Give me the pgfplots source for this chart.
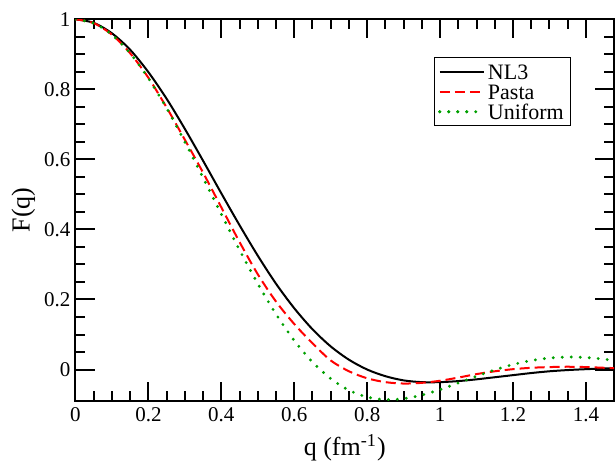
\documentclass[border=0pt]{standalone}
\usepackage{fontspec}
\setmainfont{Liberation Serif}
\usepackage{pgfplots}
\pgfplotsset{compat=1.18}
\definecolor{grgreen}{RGB}{0,160,0}

\pgfplotstableread{
q F
0 1.0
0.05 0.990
0.1 0.960
0.15 0.913
0.2 0.849
0.25 0.773
0.3 0.687
0.35 0.596
0.4 0.503
0.45 0.412
0.5 0.325
0.55 0.245
0.6 0.175
0.65 0.115
0.7 0.066
0.75 0.028
0.8 0.000
0.85 -0.019
0.9 -0.031
0.95 -0.036
1.0 -0.036
1.05 -0.033
1.1 -0.028
1.15 -0.022
1.2 -0.016
1.25 -0.010
1.3 -0.005
1.35 -0.0015
1.4 0.001
1.45 0.003
1.48 0.0036
}\nlthree

\pgfplotstableread{
q F
0 1.0
0.05 0.989
0.1 0.956
0.15 0.903
0.2 0.833
0.25 0.748
0.3 0.656
0.35 0.562
0.4 0.463
0.45 0.364
0.5 0.272
0.55 0.194
0.6 0.130
0.65 0.075
0.7 0.026
0.75 -0.005
0.8 -0.025
0.85 -0.036
0.9 -0.040
0.95 -0.038
1.0 -0.032
1.05 -0.023
1.1 -0.013
1.15 -0.005
1.2 0.001
1.25 0.005
1.3 0.007
1.35 0.008
1.4 0.007
1.45 0.005
1.48 0.004
}\pasta

\pgfplotstableread{
q F
0 1.0
0.05 0.9888
0.1 0.9558
0.15 0.9026
0.2 0.8316
0.25 0.7461
0.3 0.6501
0.35 0.5478
0.4 0.4434
0.45 0.3412
0.5 0.2450
0.55 0.1581
0.6 0.0829
0.65 0.0213
0.7 -0.0260
0.75 -0.0590
0.8 -0.0786
0.85 -0.0860
0.9 -0.0833
0.95 -0.0729
1.0 -0.0571
1.05 -0.0384
1.1 -0.0191
1.15 -0.0010
1.2 0.0143
1.25 0.0257
1.3 0.0328
1.35 0.0356
1.4 0.0342
1.45 0.0295
1.48 0.0255
}\uniform

\begin{document}
\begin{tikzpicture}
\path[use as bounding box] (-37.75pt,-30.65pt) rectangle (269.75pt,200.35pt);
\begin{axis}[
  at={(0pt,0pt)}, anchor=south west,
  width=269.25pt, height=190.7pt, scale only axis,
  xmin=0, xmax=1.477, ymin=-0.089, ymax=1,
  xtick={0,0.2,0.4,0.6,0.8,1,1.2,1.4},
  xticklabels={0,0.2,0.4,0.6,0.8,1,1.2,1.4},
  ytick={0,0.2,0.4,0.6,0.8,1},
  yticklabels={0,0.2,0.4,0.6,0.8,1},
  minor tick num=3,
  major tick length=9.5pt, minor tick length=5pt,
  tick style={line width=1pt, black},
  axis line style={line width=1pt},
  /pgf/number format/assume math mode=true,
  tick label style={font=\fontsize{10.5}{12}\selectfont},
  yticklabel style={xshift=1pt},
  xlabel={q (fm\textsuperscript{-1})},
  ylabel={F(q)},
  label style={font=\fontsize{13}{15}\selectfont},
  xlabel style={at={(axis description cs:0.5,0)}, anchor=base, yshift=-27.5pt},
  ylabel style={at={(axis description cs:0,0.5)}, anchor=center, yshift=26pt},
  legend style={at={(0.92,0.901)}, anchor=north east, draw=black, line width=0.6pt,
    font=\fontsize{11}{10}\selectfont, inner sep=2pt, row sep=0pt,
    nodes={inner sep=1.3pt, text height=7.4pt, text depth=0pt},
    cells={anchor=west}},
  legend image code/.code={\draw[#1] (0pt,0pt) -- (18pt,0pt); \path (0pt,0pt) -- (22pt,0pt);},
]
\addplot[black, line width=1pt, smooth] table[x=q, y=F] {\nlthree};
\addplot[red, line width=1pt, dash pattern=on 5pt off 2.5pt, smooth] table[x=q, y=F] {\pasta};
\addplot[grgreen, line width=1.6pt, line cap=round, dash pattern=on 0pt off 4.5pt, smooth] table[x=q, y=F] {\uniform};
\legend{NL3,Pasta,Uniform}
\end{axis}
\end{tikzpicture}
\end{document}
